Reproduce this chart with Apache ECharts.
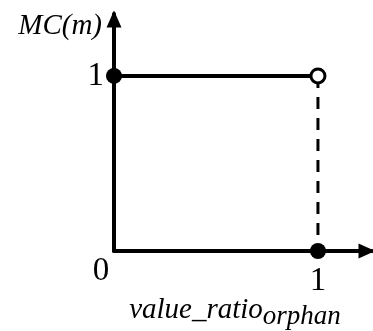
<!DOCTYPE html>
<html>
<head>
<meta charset="utf-8">
<script src="https://cdn.jsdelivr.net/npm/echarts@6/dist/echarts.min.js"></script>
<style>
  html, body { margin: 0; padding: 0; background: #fff; }
  #chart { width: 373px; height: 331px; }
</style>
</head>
<body>
<div id="chart"></div>
<script>
// Step function MC(m): equals 1 for ratio in [0, 1), jumps at ratio 1
const stepX = [0, 1];
const stepY = [1, 1];
const closedPoints = [[0, 1], [1, 0]];
const openPoints = [[1, 1]];
const dropX = [1, 1];
const dropY = [1, 0];
const xTicks = [0, 1];
const yTicks = [1];

const FONT = '"Liberation Serif", "DejaVu Serif", serif';

const chart = echarts.init(document.getElementById('chart'), null, { renderer: 'canvas' });

chart.setOption({
  animation: false,
  backgroundColor: '#fff',
  grid: { left: 114, right: 1, top: 14, bottom: 80, outerBoundsMode: 'none' },
  xAxis: {
    type: 'value',
    min: 0,
    max: 1.265,
    interval: 1,
    splitLine: { show: false },
    axisTick: { show: false },
    axisLine: {
      lineStyle: { color: '#000', width: 4 },
      symbol: ['none', 'triangle'],
      symbolSize: [15, 17],
      symbolOffset: [0, -5]
    },
    axisLabel: {
      showMaxLabel: false,
      margin: 4,
      color: '#000',
      fontFamily: FONT,
      fontSize: 33,
      formatter: function (v) {
        if (xTicks.indexOf(v) < 0) return '';
        return v === 0 ? '{z|0}' : '{o|' + v + '}';
      },
      rich: {
        z: { fontFamily: FONT, fontSize: 33, color: '#000', padding: [0, 26, 0, 0] },
        o: { fontFamily: FONT, fontSize: 33, color: '#000', padding: [10, 0, 0, 0] }
      }
    },
    name: 'value_ratio{sub|orphan}',
    nameLocation: 'middle',
    nameMoveOverlap: false,
    nameGap: 40,
    nameTextStyle: {
      fontFamily: FONT,
      fontStyle: 'italic',
      fontSize: 29,
      color: '#000',
      padding: [0, 16, 0, 0],
      rich: {
        sub: { fontFamily: FONT, fontStyle: 'italic', fontSize: 27, color: '#000', padding: [12, 0, 0, 0] }
      }
    }
  },
  yAxis: {
    type: 'value',
    min: 0,
    max: 1.354,
    interval: 1,
    splitLine: { show: false },
    axisTick: { show: false },
    axisLine: {
      lineStyle: { color: '#000', width: 4 },
      symbol: ['none', 'triangle'],
      symbolSize: [15, 17],
      symbolOffset: [0, -5]
    },
    axisLabel: {
      showMaxLabel: false,
      margin: 10,
      color: '#000',
      fontFamily: FONT,
      fontSize: 33,
      formatter: function (v) { return yTicks.indexOf(v) >= 0 ? String(v) : ''; }
    },
    name: 'MC(m)',
    nameLocation: 'end',
    nameMoveOverlap: false,
    nameGap: -12,
    nameTextStyle: {
      fontFamily: FONT,
      fontStyle: 'italic',
      fontSize: 29,
      color: '#000',
      align: 'right',
      verticalAlign: 'middle',
      padding: [0, 12, 0, 0]
    }
  },
  series: [
    {
      type: 'line',
      data: stepX.map((x, i) => [x, stepY[i]]),
      symbol: 'none',
      lineStyle: { color: '#000', width: 4 },
      z: 2
    },
    {
      type: 'line',
      data: dropX.map((x, i) => [x, dropY[i]]),
      symbol: 'none',
      lineStyle: { color: '#000', width: 3, type: [12, 9] },
      z: 2
    },
    {
      type: 'scatter',
      data: closedPoints,
      symbol: 'circle',
      symbolSize: 16,
      itemStyle: { color: '#000', opacity: 1 },
      z: 4
    },
    {
      type: 'scatter',
      data: openPoints,
      symbol: 'circle',
      symbolSize: 14,
      itemStyle: { color: '#fff', borderColor: '#000', borderWidth: 3, opacity: 1 },
      z: 4
    }
  ]
});
</script>
</body>
</html>
